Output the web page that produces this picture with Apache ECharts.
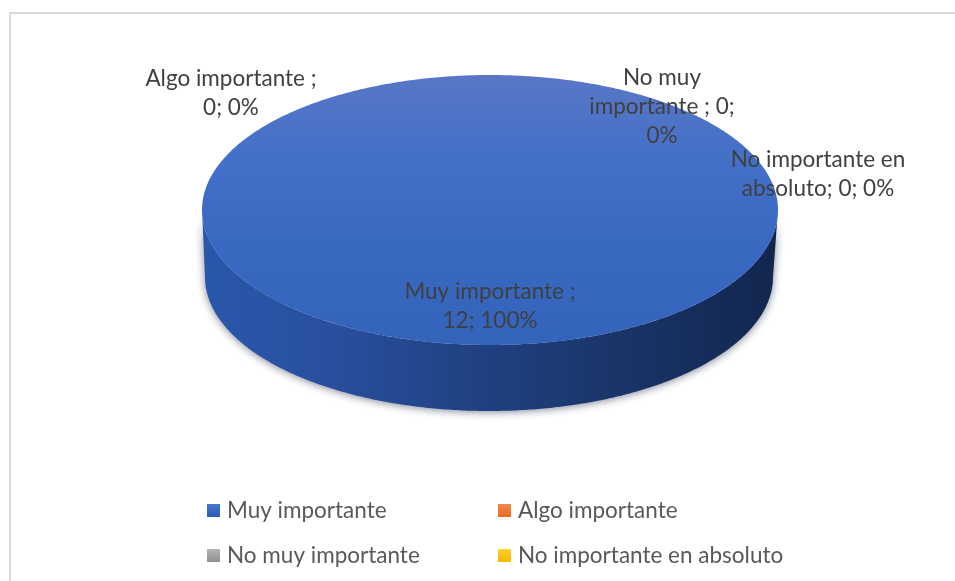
<!DOCTYPE html>
<html><head><meta charset="utf-8">
<style>html,body{margin:0;padding:0;background:#fff}#c{width:955px;height:581px}</style>
<script src="https://cdn.jsdelivr.net/npm/echarts@6/dist/echarts.min.js"></script>
</head><body><div id="c"></div>
<script>
const categories = ['Muy importante', 'Algo importante', 'No muy importante', 'No importante en absoluto'];
const values = [12, 0, 0, 0];
const dataLabelLines = [
  ['Muy importante ;', '12; 100%'],
  ['Algo importante ;', '0; 0%'],
  ['No muy', 'importante ; 0;', '0%'],
  ['No importante en', 'absoluto; 0; 0%']
];
const labelAnchors = [[490, 306], [231, 93], [662, 107], [818, 174]];
const legendTopColors = ['#4a78cf', '#f08a50', '#b5b5b5', '#ffcf33'];
const legendBottomColors = ['#2a5ab5', '#e86a1c', '#8f8f8f', '#f5b800'];

const FONT = 'Lato';
const TOP = {cx: 490, cy: 210, rx: 288, ry: 135};
const BOT = {cx: 489, cy: 277, rx: 284, ry: 134};
const total = values.reduce((a, b) => a + b, 0);
const grad = (x2, y2, stops) => ({type: 'linear', x: 0, y: 0, x2, y2,
  colorStops: stops.map(s => ({offset: s[0], color: s[1]}))});

function pt(e, t) { return [e.cx + e.rx * Math.sin(t), e.cy - e.ry * Math.cos(t)]; }
function arc(e, a, b) {
  const out = [], n = Math.max(2, Math.ceil((b - a) / 0.01));
  for (let i = 0; i <= n; i++) out.push(pt(e, a + (b - a) * i / n));
  return out;
}
const sideFill = grad(1, 0, [[0, '#2a57aa'], [0.2, '#2950a0'], [0.5, '#1f4080'], [0.75, '#193365'], [1, '#12264e']]);
const topFill = grad(0, 1, [[0, '#5877c6'], [0.3, '#4470c8'], [0.6, '#3a69c2'], [1, '#3363bb']]);

function makeRender(i) {
  return function (params, api) {
    const v = api.value(0);
    const before = values.slice(0, i).reduce((a, b) => a + b, 0);
    const a = before / total * Math.PI * 2;
    const b = (before + v) / total * Math.PI * 2;
    const children = [];
    if (v > 0) {
      const fa = Math.max(a, Math.PI / 2), fb = Math.min(b, Math.PI * 1.5);
      if (fb > fa) {
        children.push({type: 'polygon',
          shape: {points: arc(TOP, fa, fb).concat(arc(BOT, fa, fb).reverse())},
          style: {fill: sideFill, shadowColor: 'rgba(20,30,60,0.55)', shadowBlur: 9, shadowOffsetY: 1}});
      }
      const full = v === total;
      const pts = arc(TOP, a, b);
      if (!full) pts.push([TOP.cx, TOP.cy]);
      children.push({type: 'polygon', shape: {points: pts}, style: {fill: topFill}});
    }
    const anchor = labelAnchors[i];
    children.push({type: 'text', x: anchor[0], y: anchor[1],
      style: {text: dataLabelLines[i].join('\n'), fill: '#404040', font: '22.5px ' + FONT,
        lineHeight: 29, align: 'center', verticalAlign: 'middle'}, z2: 50});
    return {type: 'group', children};
  };
}

const chart = echarts.init(document.getElementById('c'), null, {renderer: 'canvas'});
const legendEntry = i => ({name: categories[i],
  itemStyle: {color: grad(0, 1, [[0, legendTopColors[i]], [1, legendBottomColors[i]]])}});
const legendBase = {orient: 'vertical', top: 494, itemWidth: 13, itemHeight: 13, itemGap: 22,
  selectedMode: false, icon: 'rect',
  textStyle: {color: '#595959', fontFamily: FONT, fontSize: 22.5, padding: [0, 0, 0, 2]}};
chart.setOption({
  animation: false,
  backgroundColor: '#fff',
  graphic: [{type: 'rect', z: -1, shape: {x: 10, y: 13, width: 960, height: 580},
    style: {fill: '#fff', stroke: '#d9d9d9', lineWidth: 2}}],
  legend: [
    Object.assign({}, legendBase, {left: 202, data: [legendEntry(0), legendEntry(2)]}),
    Object.assign({}, legendBase, {left: 493, data: [legendEntry(1), legendEntry(3)]})
  ],
  series: categories.map((name, i) => ({
    type: 'custom', name, coordinateSystem: 'none', silent: true,
    itemStyle: {color: legendBottomColors[i]},
    data: [[values[i]]], renderItem: makeRender(i)
  }))
});
</script></body></html>
